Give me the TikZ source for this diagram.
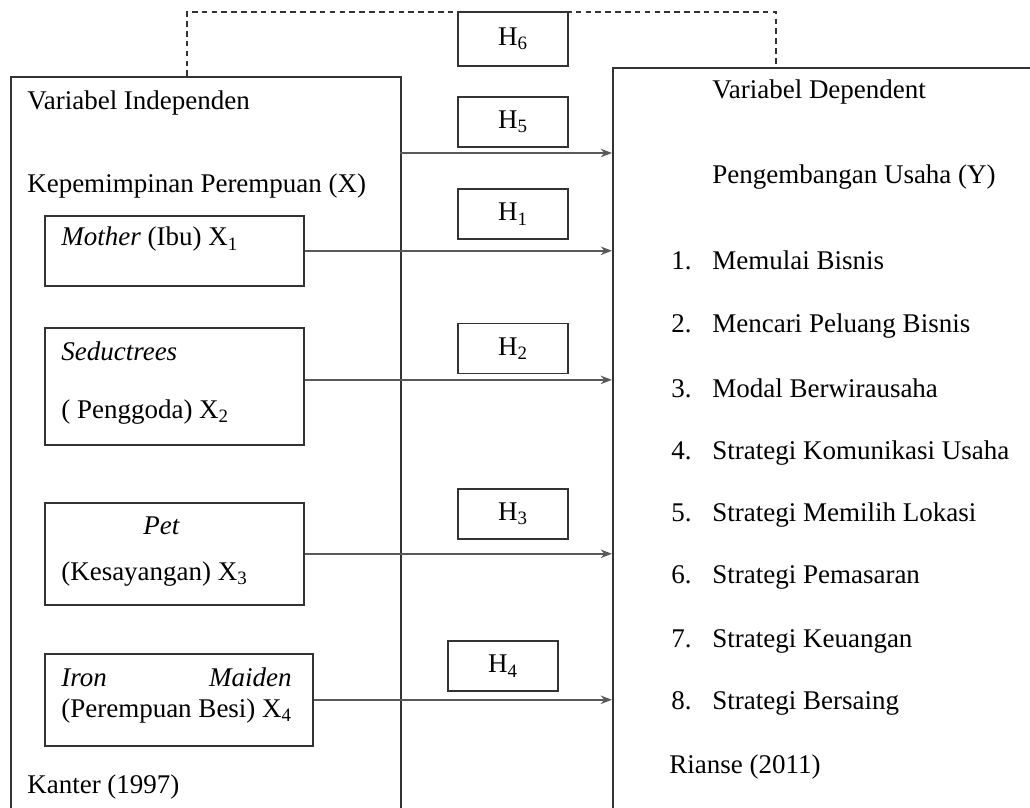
\documentclass[tikz,border=0pt]{standalone}
\usepackage{fontspec}
\setmainfont{Liberation Serif}
\usetikzlibrary{arrows.meta,positioning}

\begin{document}
\begin{tikzpicture}[
    x=0.025cm, y=-0.025cm,
    box/.style={rectangle, draw=black!80, line width=1.1pt, inner sep=0pt, anchor=north west},
    hbox/.style={rectangle, draw=black!80, line width=1.1pt, minimum width=2.75cm, minimum height=1.25cm, inner sep=0pt, font=\fontsize{19.2}{23}\selectfont},
    txt/.style={anchor=base west, inner sep=0pt, font=\fontsize{19.2}{23}\selectfont},
    arrow/.style={-{Stealth[length=8pt,width=6pt]}, draw=black!65, line width=1.4pt}
]
\useasboundingbox (0,0) rectangle (1030,807);
\clip (0,0) rectangle (1030,807);

% the two variable blocks
\node[box, minimum width=9.75cm, minimum height=19cm] (indep) at (10,76) {};
\node[box, minimum width=11cm, minimum height=19.5cm] (dep) at (612,67) {};

% inner boxes X1..X4
\node[box, minimum width=6.475cm, minimum height=1.75cm] (mother) at (44,215) {};
\node[box, minimum width=6.475cm, minimum height=2.925cm] (seduc) at (44,327) {};
\node[box, minimum width=6.475cm, minimum height=2.55cm] (pet) at (44,502) {};
\node[box, minimum width=6.7cm, minimum height=2.3cm] (iron) at (44,653) {};

% hypotheses
\node[hbox, minimum height=1.35cm] (h6) at (513,39) {H\textsubscript{6}};
\node[hbox] (h5) at (513,122) {H\textsubscript{5}};
\node[hbox] (h1) at (513,214) {H\textsubscript{1}};
\node[hbox] (h2) at (513,348.5) {H\textsubscript{2}};
\node[hbox] (h3) at (513,514) {H\textsubscript{3}};
\node[hbox] (h4) at (503,666) {H\textsubscript{4}};

% left texts
\node[txt] (indeptitle) at (27,110) {Variabel Independen};
\node[txt] (xtitle) at (27,193) {Kepemimpinan Perempuan (X)};
\node[txt] (x1) at (61,246) {\textit{Mother} (Ibu) X\textsubscript{1}};
\node[txt] (x2a) at (61,360) {\textit{Seductrees}};
\node[txt] (x2b) at (61,418) {( Penggoda) X\textsubscript{2}};
\node[txt] (x3a) at (143,534) {\textit{Pet}};
\node[txt] (x3b) at (61,580) {(Kesayangan) X\textsubscript{3}};
\node[txt] (x4a) at (61,686) {\textit{Iron}};
\node[txt, anchor=base east] (x4b) at (292,686) {\textit{Maiden}};
\node[txt] (x4c) at (61,717) {(Perempuan Besi) X\textsubscript{4}};
\node[txt] (kanter) at (27,793) {Kanter (1997)};

% right texts
\node[txt] (deptitle) at (712,99) {Variabel Dependent};
\node[txt] (ytitle) at (712,184) {Pengembangan Usaha (Y)};
\foreach \n/\yy/\t in {1/269/Memulai Bisnis, 2/332/Mencari Peluang Bisnis,
    3/397/Modal Berwirausaha, 4/459/Strategi Komunikasi  Usaha,
    5/521/Strategi Memilih Lokasi, 6/583/Strategi Pemasaran,
    7/647/Strategi Keuangan, 8/709/Strategi Bersaing} {
  \node[txt] (num\n) at (671,\yy) {\n.};
  \node[txt] (item\n) at (712,\yy) {\t};
}
\node[txt] (rianse) at (669,773) {Rianse (2011)};

% connectors
\coordinate (h5s) at (400,153);
\draw[arrow] (h5s) -- (h5s -| dep.west);
\draw[arrow] (mother.east) -- (mother.east -| dep.west);
\draw[arrow] ([yshift=0.16cm]seduc.east) -- ([yshift=0.16cm]seduc.east -| dep.west);
\draw[arrow] (pet.east) -- (pet.east -| dep.west);
\draw[arrow] (iron.east) -- (iron.east -| dep.west);

\coordinate (dl) at (187,76);
\coordinate (dr) at (776,67);
\draw[dashed, dash pattern=on 4pt off 3pt, draw=black!80, line width=1.1pt] (dl) -- ++(0,-64) -| (dr);
\end{tikzpicture}
\end{document}
